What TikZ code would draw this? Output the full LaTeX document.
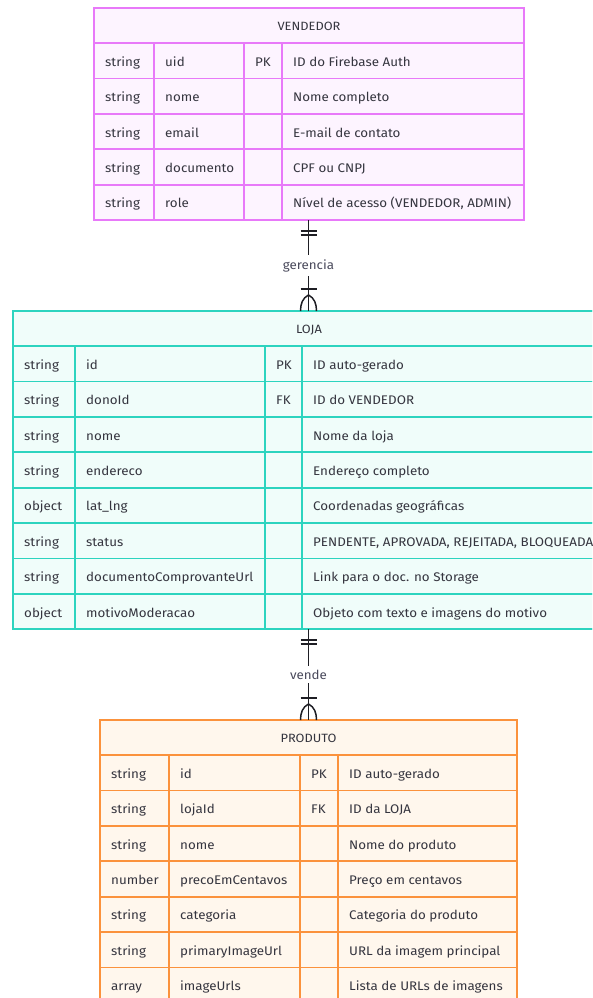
\documentclass[tikz,border=0pt]{standalone}
\usepackage{fontspec}
\setmainfont[FakeStretch=1.07]{Fira Sans}
\usetikzlibrary{calc}

\definecolor{ink}{HTML}{35353F}
\definecolor{linkink}{HTML}{1E1E24}
\definecolor{labelink}{HTML}{4A4A5C}
\definecolor{vendStroke}{HTML}{E879F9}
\definecolor{vendFill}{HTML}{FDF4FF}
\definecolor{lojaStroke}{HTML}{2DD4BF}
\definecolor{lojaFill}{HTML}{F0FDFA}
\definecolor{prodStroke}{HTML}{FB923C}
\definecolor{prodFill}{HTML}{FFF7ED}

\tikzset{
  cell/.style={draw=\tstroke, fill=\tfill, line width=1.8pt, inner sep=0pt,
    outer sep=0pt, minimum height=35.4pt},
  frame/.style={draw=\tstroke, fill=\tfill, line width=1.8pt, inner sep=0pt, outer sep=0pt},
  celltext/.style={text=ink, inner sep=0pt, font=\fontsize{12.5}{15}\selectfont},
  headtext/.style={text=ink, inner sep=0pt, font=\fontsize{12}{14}\selectfont},
  rel/.style={draw=linkink, line width=1.5pt},
  rellabel/.style={fill=white, text=labelink, inner xsep=1pt, inner ysep=4pt,
    font=\fontsize{12.5}{15}\selectfont},
}

% one table cell: name, left x, right x, top y, text
\newcommand\ercell[5]{%
  \node[cell, minimum width=#3-#2, anchor=north west] (#1) at (#2,#4) {};
  \node[celltext, anchor=base west] (#1-t) at ($(#1.west)+(11,5.5)$) {#5};}

% one attribute row: name prefix, top y, type, attribute, key, comment
\newcommand\errow[6]{%
  \ercell{#1-type}{\xa}{\xb}{#2}{#3}%
  \ercell{#1-name}{\xb}{\xc}{#2}{#4}%
  \ercell{#1-key}{\xc}{\xd}{#2}{#5}%
  \ercell{#1-note}{\xd}{\xe}{#2}{#6}}

% entity frame with its title row: name, top y, bottom y, title
\newcommand\erhead[4]{%
  \node[frame, minimum width=\xe-\xa, minimum height=#3-#2, anchor=north west] (#1) at (\xa,#2) {};
  \node[cell, minimum width=\xe-\xa, minimum height=35pt, anchor=north west] (#1-head) at (\xa,#2) {};
  \node[headtext, anchor=base] (#1-title) at ($(#1-head.center)+(0,5)$) {#4};}

\begin{document}
\begin{tikzpicture}[x=1pt, y=-1pt]
\useasboundingbox (0,0) rectangle (592,998);
\clip (0,0) rectangle (592,998);

% ---------- VENDEDOR ----------
\def\tstroke{vendStroke}\def\tfill{vendFill}
\def\xa{94}\def\xb{154}\def\xc{244}\def\xd{282}\def\xe{524}
\erhead{vendedor}{8}{220}{VENDEDOR}
\errow{vend-r1}{43}{string}{uid}{PK}{ID do Firebase Auth}
\errow{vend-r2}{78.4}{string}{nome}{}{Nome completo}
\errow{vend-r3}{113.8}{string}{email}{}{E-mail de contato}
\errow{vend-r4}{149.2}{string}{documento}{}{CPF ou CNPJ}
\errow{vend-r5}{184.6}{string}{role}{}{Nível de acesso (VENDEDOR, ADMIN)}

% ---------- LOJA ----------
\def\tstroke{lojaStroke}\def\tfill{lojaFill}
\def\xa{13}\def\xb{75}\def\xc{265}\def\xd{302}\def\xe{605}
\erhead{loja}{311}{629.2}{LOJA}
\errow{loja-r1}{346}{string}{id}{PK}{ID auto-gerado}
\errow{loja-r2}{381.4}{string}{donoId}{FK}{ID do VENDEDOR}
\errow{loja-r3}{416.8}{string}{nome}{}{Nome da loja}
\errow{loja-r4}{452.2}{string}{endereco}{}{Endereço completo}
\errow{loja-r5}{487.6}{object}{lat\_lng}{}{Coordenadas geográficas}
\errow{loja-r6}{523}{string}{status}{}{PENDENTE, APROVADA, REJEITADA, BLOQUEADA}
\errow{loja-r7}{558.4}{string}{documentoComprovanteUrl}{}{Link para o doc. no Storage}
\errow{loja-r8}{593.8}{object}{motivoModeracao}{}{Objeto com texto e imagens do motivo}

% ---------- PRODUTO ----------
\def\tstroke{prodStroke}\def\tfill{prodFill}
\def\xa{100}\def\xb{169}\def\xc{300}\def\xd{338}\def\xe{517}
\erhead{produto}{720}{1002.8}{PRODUTO}
\errow{prod-r1}{755}{string}{id}{PK}{ID auto-gerado}
\errow{prod-r2}{790.4}{string}{lojaId}{FK}{ID da LOJA}
\errow{prod-r3}{825.8}{string}{nome}{}{Nome do produto}
\errow{prod-r4}{861.2}{number}{precoEmCentavos}{}{Preço em centavos}
\errow{prod-r5}{896.6}{string}{categoria}{}{Categoria do produto}
\errow{prod-r6}{932}{string}{primaryImageUrl}{}{URL da imagem principal}
\errow{prod-r7}{967.4}{array}{imageUrls}{}{Lista de URLs de imagens}

% ---------- relationships ----------
% VENDEDOR ||--|{ LOJA : gerencia
\coordinate (g-top) at ($(vendedor.south)+(-0.5,0)$);
\coordinate (g-bot) at (g-top |- loja.north);
\draw[rel] (g-top) -- (g-bot) node[rellabel, pos=0.5] (g-label) {gerencia};
\draw[rel] ($(g-top)+(-8,11)$) -- ++(16,0);
\draw[rel] ($(g-top)+(-8,15)$) -- ++(16,0);
\draw[rel] ($(g-bot)+(-8,-22)$) -- ++(16,0);
\draw[rel] ($(g-bot)+(0,-16)$) .. controls ($(g-bot)+(-6,-13)$) and ($(g-bot)+(-8,-7)$) .. ($(g-bot)+(-8,0)$);
\draw[rel] ($(g-bot)+(0,-16)$) .. controls ($(g-bot)+(6,-13)$) and ($(g-bot)+(8,-7)$) .. ($(g-bot)+(8,0)$);

% LOJA ||--|{ PRODUTO : vende
\coordinate (v-top) at (g-top |- loja.south);
\coordinate (v-bot) at (g-top |- produto.north);
\draw[rel] (v-top) -- (v-bot) node[rellabel, pos=0.5] (v-label) {vende};
\draw[rel] ($(v-top)+(-8,11)$) -- ++(16,0);
\draw[rel] ($(v-top)+(-8,15)$) -- ++(16,0);
\draw[rel] ($(v-bot)+(-8,-22)$) -- ++(16,0);
\draw[rel] ($(v-bot)+(0,-16)$) .. controls ($(v-bot)+(-6,-13)$) and ($(v-bot)+(-8,-7)$) .. ($(v-bot)+(-8,0)$);
\draw[rel] ($(v-bot)+(0,-16)$) .. controls ($(v-bot)+(6,-13)$) and ($(v-bot)+(8,-7)$) .. ($(v-bot)+(8,0)$);
\end{tikzpicture}
\end{document}
